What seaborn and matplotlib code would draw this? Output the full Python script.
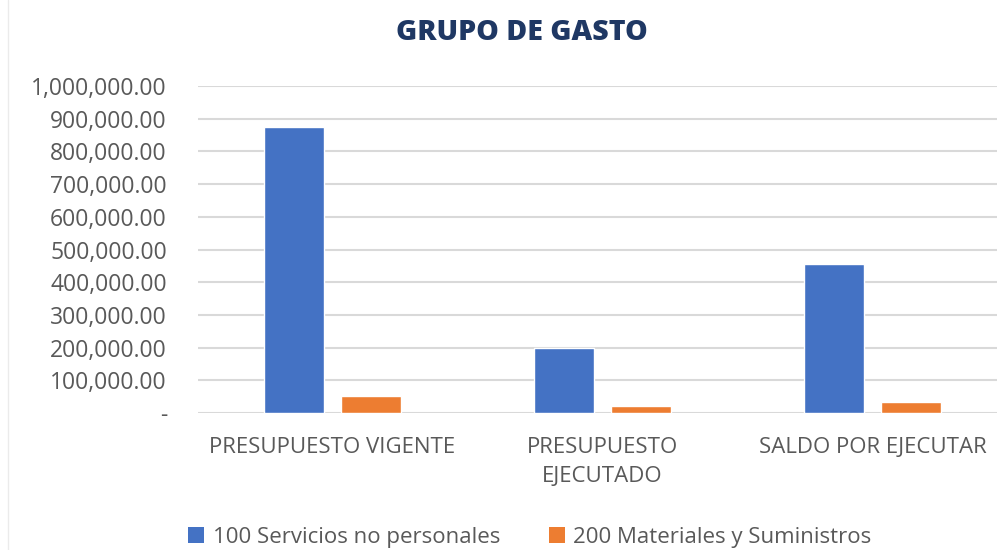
import matplotlib
matplotlib.use("Agg")
import matplotlib.pyplot as plt
import seaborn as sns
import pandas as pd
from matplotlib.ticker import FuncFormatter
from matplotlib.patches import Patch
from matplotlib.lines import Line2D

categories = ["PRESUPUESTO VIGENTE", "PRESUPUESTO\nEJECUTADO", "SALDO POR EJECUTAR"]
series_names = ["100 Servicios no personales", "200 Materiales y Suministros"]
servicios = [875500, 198000, 455000]
materiales = [53000, 21400, 32700]
colors = ["#4472C4", "#ED7D31"]

df = pd.DataFrame({
    "cat": categories * 2,
    "serie": [series_names[0]] * 3 + [series_names[1]] * 3,
    "valor": servicios + materiales,
})

sns.set_theme(style="white")
plt.rcParams['font.family'] = ['Open Sans', 'DejaVu Sans']

W, H = 997, 550
fig = plt.figure(figsize=(W / 100, H / 100), dpi=100)
ax = fig.add_axes([197.5 / W, 1 - 413 / H, 810 / W, (413 - 86) / H])

sns.barplot(data=df, x="cat", y="valor", hue="serie", palette=colors,
            width=0.567, gap=0.21, ax=ax, legend=False, saturation=1)

ax.set_ylim(0, 1000000)
ax.set_xlim(-0.5, 2.5)
ax.set_yticks(range(0, 1000001, 100000))
ax.yaxis.set_major_formatter(FuncFormatter(lambda v, p: "-" if v == 0 else f"{v:,.2f}"))
ax.grid(axis="y", color="#D9D9D9", linewidth=1.5)
ax.set_axisbelow(True)
for s in ax.spines.values():
    s.set_visible(False)
ax.set_xlabel("")
ax.set_ylabel("")
ax.tick_params(axis="y", length=0, pad=22, labelsize=16.5, labelcolor="#595959")
ax.tick_params(axis="x", length=0, pad=17, labelsize=16, labelcolor="#595959")
for t in ax.get_xticklabels():
    t.set_linespacing(1.55)

fig.text(522 / W, 1 - 33 / H, "GRUPO DE GASTO", ha="center", va="center",
         fontsize=20.5, fontweight="heavy", color="#1F3864")

handles = [Patch(facecolor=c, edgecolor="none") for c in colors]
fig.legend(handles, series_names, loc="center", bbox_to_anchor=(530 / W, 1 - 537 / H),
           ncol=2, frameon=False, fontsize=16, labelcolor="#595959",
           handlelength=0.7, handleheight=0.7, handletextpad=0.4, columnspacing=2.2)

fig.add_artist(Line2D([8 / W, 8 / W], [0, 1], color="#EBEBEB", linewidth=1, transform=fig.transFigure))

fig.savefig("out.png", dpi=100, facecolor="white")
